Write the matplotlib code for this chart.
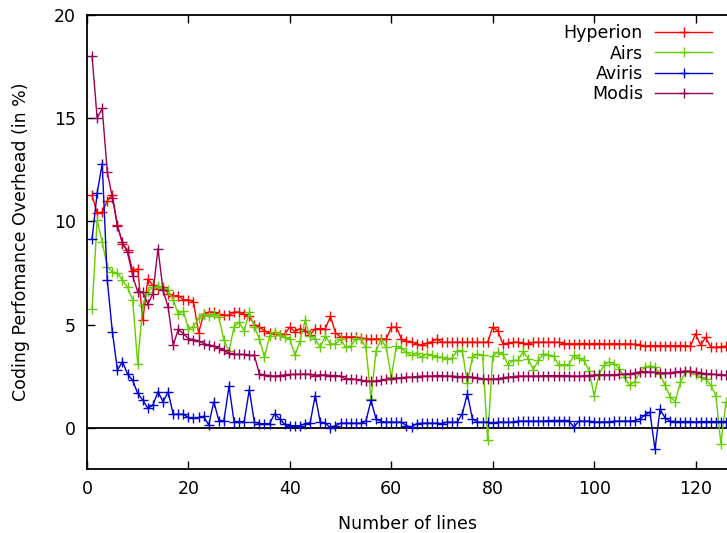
import matplotlib
matplotlib.use("Agg")
import matplotlib.pyplot as plt

plt.rcParams['font.family'] = ['DejaVu Sans']

lines = list(range(1, 127))

hyperion = [11.26, 10.4, 10.45, 11.0, 11.3, 9.8, 8.9, 8.6, 7.6, 7.7,
            5.2, 7.2, 6.9, 6.7, 6.8, 6.5, 6.4, 6.4, 6.2, 6.2,
            6.1, 4.6, 5.5, 5.6, 5.6, 5.5, 5.45, 5.45, 5.6, 5.6,
            5.5, 5.4, 5.0, 4.87, 4.7, 4.6, 4.55, 4.5, 4.55, 4.87,
            4.66, 4.8, 4.7, 4.5, 4.8, 4.8, 4.8, 5.4, 4.6, 4.4,
            4.4, 4.4, 4.4, 4.35, 4.3, 4.3, 4.3, 4.3, 4.3, 4.87,
            4.87, 4.3, 4.2, 4.17, 4.06, 4.0, 4.1, 4.17, 4.3, 4.14,
            4.14, 4.14, 4.14, 4.14, 4.14, 4.14, 4.14, 4.14, 4.14, 4.87,
            4.7, 4.06, 4.1, 4.14, 4.14, 4.1, 4.06, 4.14, 4.14, 4.14,
            4.14, 4.14, 4.14, 4.08, 4.08, 4.06, 4.08, 4.08, 4.06, 4.08,
            4.08, 4.06, 4.06, 4.08, 4.06, 4.06, 4.06, 4.04, 4.02, 3.95,
            3.98, 3.98, 3.98, 3.98, 3.98, 3.98, 3.98, 3.98, 3.95, 4.55,
            4.0, 4.38, 3.9, 3.9, 3.93, 3.95]

airs = [5.74, 10.05, 9.0, 7.8, 7.55, 7.5, 7.15, 6.8, 6.2, 3.1,
        5.95, 6.6, 6.8, 6.85, 6.75, 6.65, 6.2, 5.5, 5.65, 4.8,
        4.9, 5.3, 5.5, 5.4, 5.5, 5.35, 4.25, 3.7, 4.9, 5.1,
        4.7, 5.6, 4.9, 4.3, 3.42, 4.43, 4.66, 4.5, 4.4, 4.3,
        3.5, 4.2, 5.2, 4.43, 4.3, 3.9, 4.45, 4.06, 4.06, 4.3,
        3.9, 3.95, 4.3, 4.3, 3.9, 1.4, 3.74, 4.27, 3.9, 2.45,
        3.95, 3.85, 3.65, 3.5, 3.63, 3.42, 3.58, 3.5, 3.42, 3.42,
        3.34, 3.37, 3.74, 3.74, 2.18, 3.42, 3.58, 3.5, -0.6, 3.47,
        3.66, 3.58, 3.05, 3.26, 3.26, 3.7, 3.34, 2.82, 3.26, 3.58,
        3.53, 3.47, 3.05, 3.05, 3.05, 3.5, 3.37, 3.26, 2.77, 1.56,
        2.6, 3.05, 3.18, 3.1, 2.85, 2.45, 2.05, 2.24, 2.69, 2.93,
        3.0, 2.93, 2.6, 2.05, 1.48, 1.27, 2.2, 2.69, 2.69, 2.6,
        2.45, 2.34, 2.08, 1.56, -0.77, 1.24]

aviris = [9.15, 11.37, 12.8, 7.15, 4.65, 2.8, 3.2, 2.6, 2.3, 1.66,
          1.34, 0.94, 1.1, 1.74, 1.26, 1.74, 0.65, 0.65, 0.65, 0.5,
          0.45, 0.5, 0.55, 0.13, 1.26, 0.35, 0.35, 2.0, 0.3, 0.3,
          0.3, 1.85, 0.27, 0.2, 0.2, 0.2, 0.68, 0.43, 0.16, 0.1,
          0.1, 0.1, 0.2, 0.24, 1.56, 0.27, 0.22, 0.0, 0.1, 0.22,
          0.22, 0.22, 0.22, 0.22, 0.32, 1.32, 0.43, 0.3, 0.27, 0.27,
          0.27, 0.27, 0.1, 0.03, 0.2, 0.22, 0.22, 0.22, 0.22, 0.2,
          0.27, 0.27, 0.27, 0.68, 1.64, 0.43, 0.27, 0.27, 0.27, 0.22,
          0.27, 0.27, 0.27, 0.27, 0.32, 0.32, 0.32, 0.32, 0.32, 0.32,
          0.35, 0.35, 0.35, 0.35, 0.35, 0.03, 0.32, 0.32, 0.32, 0.28,
          0.28, 0.28, 0.28, 0.32, 0.32, 0.32, 0.32, 0.35, 0.43, 0.6,
          0.76, -1.05, 0.89, 0.47, 0.32, 0.3, 0.3, 0.3, 0.3, 0.27,
          0.3, 0.3, 0.3, 0.3, 0.3, 0.3]

modis = [18.0, 15.0, 15.47, 12.4, 11.15, 9.78, 8.98, 8.5, 7.35, 6.58,
         6.58, 6.0, 6.5, 8.68, 6.65, 5.85, 4.0, 4.77, 4.56, 4.32,
         4.27, 4.2, 4.08, 4.0, 3.97, 3.84, 3.76, 3.6, 3.55, 3.55,
         3.55, 3.5, 3.5, 2.6, 2.56, 2.53, 2.5, 2.53, 2.56, 2.58,
         2.58, 2.6, 2.6, 2.58, 2.53, 2.56, 2.56, 2.53, 2.53, 2.5,
         2.37, 2.37, 2.34, 2.3, 2.26, 2.25, 2.26, 2.3, 2.34, 2.37,
         2.4, 2.42, 2.45, 2.45, 2.48, 2.5, 2.5, 2.5, 2.52, 2.52,
         2.5, 2.5, 2.48, 2.48, 2.47, 2.45, 2.42, 2.38, 2.36, 2.35,
         2.38, 2.42, 2.45, 2.47, 2.5, 2.5, 2.5, 2.5, 2.5, 2.52,
         2.52, 2.52, 2.52, 2.53, 2.52, 2.5, 2.5, 2.52, 2.53, 2.55,
         2.55, 2.56, 2.57, 2.57, 2.58, 2.6, 2.62, 2.65, 2.7, 2.72,
         2.7, 2.68, 2.66, 2.65, 2.66, 2.7, 2.72, 2.75, 2.73, 2.7,
         2.66, 2.62, 2.6, 2.58, 2.57, 2.55]

series_names = ["Hyperion", "Airs", "Aviris", "Modis"]
series_colors = ["#ff0000", "#66cc00", "#0000cc", "#990055"]
x_ticks = [0, 20, 40, 60, 80, 100, 120]
y_ticks = [0, 5, 10, 15, 20]

fig = plt.figure(figsize=(7.27, 5.33), dpi=100)
ax = fig.add_axes([87/727, 1 - 469/533, 1 - 87/727, (469 - 15)/533])

ax.axhline(0, color="black", lw=1.3, zorder=1)
for vals, name, col in zip([hyperion, airs, aviris, modis], series_names, series_colors):
    ax.plot(lines, vals, color=col, lw=1.0, marker="+", markersize=7,
            markeredgewidth=1.0, label=name, zorder=2)

ax.set_xlim(0, 126.2)
ax.set_ylim(-2, 20)
ax.set_xticks(x_ticks)
ax.set_yticks(y_ticks)
ax.tick_params(direction="in", length=6, width=1, labelsize=12.5, pad=8,
               top=True, right=False)
ax.spines["right"].set_visible(False)
for s in ["left", "bottom", "top"]:
    ax.spines[s].set_linewidth(1.3)

ax.set_xlabel("Number of lines", fontsize=12.5, labelpad=12)
ax.set_ylabel("Coding Perfomance Overhead (in %)", fontsize=12.5, labelpad=17)

leg = ax.legend(loc="upper right", bbox_to_anchor=(0.977, 0.98),
                markerfirst=False, frameon=False, fontsize=12.5,
                handlelength=3.3, handletextpad=0.7, labelspacing=0.14,
                borderpad=0, borderaxespad=0)

fig.savefig("out.png", dpi=100)
